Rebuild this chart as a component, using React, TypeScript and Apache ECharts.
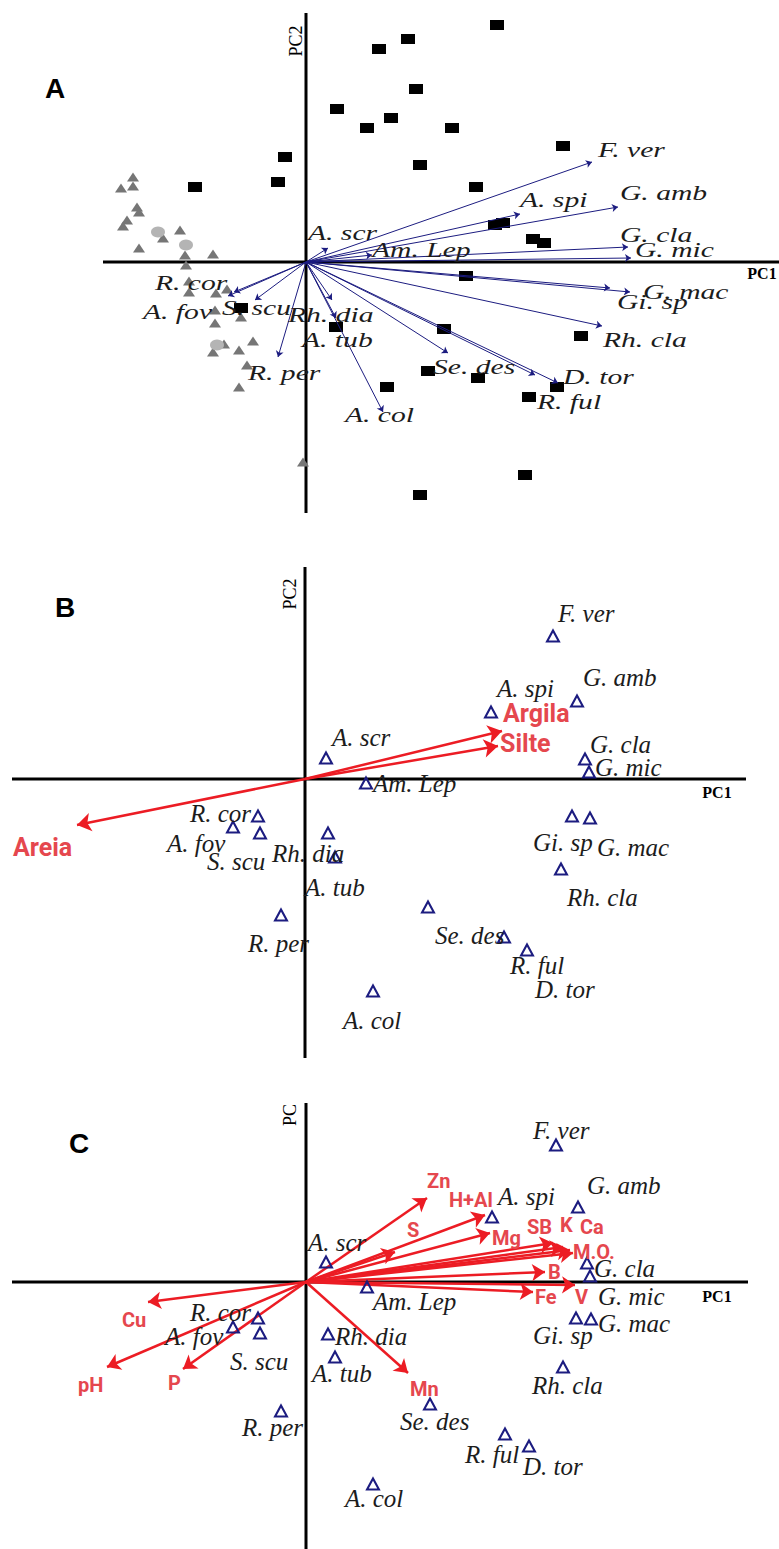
import React, { useEffect, useRef } from 'react';
import * as echarts from 'echarts';

// ---------- species (same order in all three panels) ----------
const SPECIES = ['F. ver', 'A. spi', 'G. amb', 'G. cla', 'G. mic', 'Am. Lep', 'A. scr', 'G. mac', 'Gi. sp', 'Rh. cla',
  'D. tor', 'R. ful', 'Se. des', 'A. col', 'A. tub', 'Rh. dia', 'R. per', 'S. scu', 'R. cor', 'A. fov'];

// Panel A: species loadings (arrow tips)
const A_LOAD_X = [2.86, 2.14, 3.12, 3.22, 3.25, 0.66, 0.22, 3.04, 3.24, 2.96, 2.52, 2.29, 1.42, 0.77, 0.30, 0.26, -0.28, -0.51, -0.78, -0.72];
const A_LOAD_Y = [1.00, 0.48, 0.55, 0.15, 0.04, 0.07, 0.14, -0.26, -0.30, -0.64, -1.21, -1.13, -0.91, -1.50, -0.56, -0.38, -0.95, -0.38, -0.34, -0.30];

// Panel A: site scores
const SITE_SQ_X = [1.91, 1.02, 0.73, 1.10, 0.31, 0.85, 0.61, 1.46, 2.57, -0.21, 1.14, -0.28, -1.11, 1.70, 1.89, 1.97, 2.27, 2.38, 1.60, -0.65, 0.30, 1.38, 2.75, 1.22, 0.81, 1.72, 2.51, 2.23, 2.19, 1.14];
const SITE_SQ_Y = [2.37, 2.23, 2.13, 1.73, 1.53, 1.44, 1.34, 1.34, 1.16, 1.05, 0.97, 0.80, 0.75, 0.75, 0.37, 0.39, 0.23, 0.19, -0.14, -0.46, -0.65, -0.67, -0.74, -1.09, -1.25, -1.16, -1.25, -1.35, -2.13, -2.33];
const SITE_TRI_X = [-1.73, -1.85, -1.73, -1.69, -1.67, -1.79, -1.83, -1.26, -1.43, -1.67, -1.21, -0.93, -1.20, -1.17, -0.79, -1.17, -0.90, -0.91, -0.65, -0.91, -0.53, -0.82, -0.93, -0.67, -0.59, -0.67, -0.03];
const SITE_TRI_Y = [0.85, 0.74, 0.76, 0.55, 0.50, 0.42, 0.36, 0.32, 0.24, 0.14, 0.07, 0.08, -0.03, -0.19, -0.27, -0.30, -0.31, -0.48, -0.55, -0.61, -0.79, -0.82, -0.90, -0.88, -1.03, -1.25, -2.00];
const SITE_CIR_X = [-1.48, -1.20, -0.89];
const SITE_CIR_Y = [0.30, 0.17, -0.83];

// Panel B: species scores + granulometry vectors
const B_SP_X = [2.48, 1.86, 2.72, 2.80, 2.84, 0.61, 0.21, 2.85, 2.67, 2.56, 2.22, 1.99, 1.23, 0.68, 0.30, 0.23, -0.24, -0.45, -0.47, -0.72];
const B_SP_Y = [1.43, 0.67, 0.78, 0.20, 0.07, -0.04, 0.21, -0.39, -0.37, -0.90, -1.71, -1.58, -1.28, -2.12, -0.78, -0.54, -1.36, -0.54, -0.37, -0.48];
const SOIL_NAMES = ['Argila', 'Silte', 'Areia'];
const SOIL_X = [1.97, 1.93, -2.28];
const SOIL_Y = [0.48, 0.33, -0.46];

// Panel C: species scores + chemical vectors
const C_SP_X = [2.50, 1.86, 2.72, 2.81, 2.84, 0.61, 0.20, 2.85, 2.70, 2.57, 2.23, 1.99, 1.24, 0.67, 0.29, 0.22, -0.25, -0.46, -0.48, -0.73];
const C_SP_Y = [1.37, 0.65, 0.75, 0.19, 0.06, -0.05, 0.20, -0.37, -0.36, -0.85, -1.64, -1.52, -1.22, -2.02, -0.75, -0.52, -1.29, -0.51, -0.36, -0.45];
const CHEM_NAMES = ['Cu', 'pH', 'P', 'Mn', 'Zn', 'H+Al', 'S', 'Mg', 'SB', 'K', 'Ca', 'M.O.', 'B', 'Fe', 'V'];
const CHEM_X = [-1.58, -1.99, -1.23, 1.02, 1.21, 1.79, 0.89, 1.84, 2.47, 2.57, 2.64, 2.67, 2.39, 2.27, 2.69];
const CHEM_Y = [-0.20, -0.85, -0.87, -0.91, 0.84, 0.67, 0.30, 0.49, 0.39, 0.35, 0.32, 0.29, 0.10, -0.10, -0.03];

// ---------- layout (pixels) ----------
const PANELS = [
  { top: 0, height: 530, xMin: -3.06, xMax: 4.73, yMin: -2.68, yMax: 2.62, h: [-2.03, 4.73], v: [-2.51, 2.49] },
  { top: 540, height: 530, xMin: -3.05, xMax: 4.74, yMin: -2.91, yMax: 2.39, h: [-2.93, 4.41], v: [-2.79, 2.12] },
  { top: 1090, height: 459, xMin: -3.06, xMax: 4.73, yMin: -2.67, yMax: 1.92, h: [-2.94, 4.42], v: [-2.67, 1.79] },
];
const A_LABEL_OFF = [[6, -12], [0, -14], [2, -14], [-8, -12], [4, -8], [0, -5], [-20, -15], [33, 4], [-13, 10], [1, 14],
  [5, -6], [2, 27], [-15, 14], [-38, 3], [-34, 22], [-44, 15], [-30, 16], [-33, 8], [-73, -13], [-91, 20]];
const B_LABEL_OFF = [[5, -23], [6, -24], [6, -24], [5, -15], [6, -5], [7, 0], [6, -21], [7, 29], [-39, 26], [6, 28],
  [8, 39], [6, 28], [7, 28], [-30, 29], [-30, 30], [-56, 20], [-33, 28], [-53, 28], [-68, -3], [-66, 16]];
const C_LABEL_OFF = [[-23, -15], [6, -21], [9, -22], [7, 5], [8, 20], [6, 14], [-18, -20], [7, 4], [-43, 17], [-31, 18],
  [-6, 20], [-40, 20], [-30, 17], [-28, 14], [-23, 16], [7, 2], [-39, 16], [-30, 28], [-68, -6], [-68, 9]];
const SOIL_LABEL_OFF = [[1, -18], [2, -3], [-64, 22]];
const CHEM_LABEL_OFF = [[-26, 18], [-29, 18], [-15, 14], [2, 16], [0, -17], [-36, -15], [12, -22], [2, 5], [-26, -16],
  [-3, -22], [10, -23], [0, -1], [3, 0], [2, 5], [0, 12]];

const NAVY = '#1c1c80';
const RED = '#ec1c24';
const RED_TXT = '#e5474e';
const SERIF = '"Liberation Serif", "Times New Roman", serif';
const SANS = 'Roboto, "Liberation Sans", Arial, sans-serif';

const zip = (xs: number[], ys: number[]) => xs.map((x, i) => [x, ys[i]]);

function buildOption(): any {
  const series: any[] = [];
  PANELS.forEach((p, g) => {
    series.push({
      type: 'line', xAxisIndex: g, yAxisIndex: g, silent: true, symbol: 'none', z: 1,
      data: [[p.h[0], 0], [p.h[1], 0]], lineStyle: { color: '#000', width: 3 },
    });
    series.push({
      type: 'line', xAxisIndex: g, yAxisIndex: g, silent: true, symbol: 'none', z: 1,
      data: [[0, p.v[0]], [0, p.v[1]]], lineStyle: { color: '#000', width: 3 },
    });
  });
  // Panel A
  series.push({
    type: 'lines', coordinateSystem: 'cartesian2d', xAxisIndex: 0, yAxisIndex: 0, z: 3, silent: true,
    symbol: ['none', 'arrow'], symbolSize: 6,
    lineStyle: { color: NAVY, width: 1, opacity: 1 },
    data: SPECIES.map((n, i) => ({ name: n, coords: [[0, 0], [A_LOAD_X[i], A_LOAD_Y[i]]] })),
  });
  series.push({
    type: 'scatter', xAxisIndex: 0, yAxisIndex: 0, z: 2, silent: true,
    symbol: 'rect', symbolSize: [14, 10], itemStyle: { color: '#000', opacity: 1 }, data: zip(SITE_SQ_X, SITE_SQ_Y),
  });
  series.push({
    type: 'scatter', xAxisIndex: 0, yAxisIndex: 0, z: 2, silent: true,
    symbol: 'triangle', symbolSize: [12, 9], itemStyle: { color: '#767676', opacity: 1 }, data: zip(SITE_TRI_X, SITE_TRI_Y),
  });
  series.push({
    type: 'scatter', xAxisIndex: 0, yAxisIndex: 0, z: 2, silent: true,
    symbol: 'circle', symbolSize: [14, 11], itemStyle: { color: '#b4b4b4', opacity: 1 }, data: zip(SITE_CIR_X, SITE_CIR_Y),
  });
  // Panel B
  series.push({
    type: 'lines', coordinateSystem: 'cartesian2d', xAxisIndex: 1, yAxisIndex: 1, z: 3, silent: true,
    symbol: ['none', 'arrow'], symbolSize: 14,
    lineStyle: { color: RED, width: 2.5, opacity: 1 },
    data: SOIL_NAMES.map((n, i) => ({ name: n, coords: [[0, 0], [SOIL_X[i], SOIL_Y[i]]] })),
  });
  series.push({
    type: 'scatter', xAxisIndex: 1, yAxisIndex: 1, z: 4, silent: true,
    symbol: 'triangle', symbolSize: [12, 11],
    itemStyle: { color: 'rgba(255,255,255,0)', borderColor: NAVY, borderWidth: 2, opacity: 1 }, data: zip(B_SP_X, B_SP_Y),
  });
  // Panel C
  series.push({
    type: 'lines', coordinateSystem: 'cartesian2d', xAxisIndex: 2, yAxisIndex: 2, z: 3, silent: true,
    symbol: ['none', 'arrow'], symbolSize: 13,
    lineStyle: { color: RED, width: 2.5, opacity: 1 },
    data: CHEM_NAMES.map((n, i) => ({ name: n, coords: [[0, 0], [CHEM_X[i], CHEM_Y[i]]] })),
  });
  series.push({
    type: 'scatter', xAxisIndex: 2, yAxisIndex: 2, z: 4, silent: true,
    symbol: 'triangle', symbolSize: [12, 11],
    itemStyle: { color: 'rgba(255,255,255,0)', borderColor: NAVY, borderWidth: 2, opacity: 1 }, data: zip(C_SP_X, C_SP_Y),
  });

  return {
    animation: false,
    backgroundColor: '#fff',
    grid: PANELS.map((p) => ({ left: 0, top: p.top, width: 779, height: p.height })),
    xAxis: PANELS.map((p, g) => ({ type: 'value', gridIndex: g, min: p.xMin, max: p.xMax, show: false })),
    yAxis: PANELS.map((p, g) => ({ type: 'value', gridIndex: g, min: p.yMin, max: p.yMax, show: false })),
    series,
  };
}

function textEl(text: string, x: number, y: number, opts: any): any {
  return {
    type: 'text', x, y, silent: true, z: 10,
    scaleX: opts.scaleX || 1, rotation: opts.rotation || 0,
    style: {
      text, fill: opts.fill || '#1a1a1a',
      fontFamily: opts.fontFamily || SERIF, fontSize: opts.fontSize || 18,
      fontStyle: opts.fontStyle || 'normal', fontWeight: opts.fontWeight || 'normal',
      align: opts.align || 'left', verticalAlign: 'middle',
      textAlign: opts.align || 'left', textVerticalAlign: 'middle',
    },
  };
}

function buildGraphics(chart: any): any[] {
  const out: any[] = [];
  const place = (g: number, names: string[], xs: number[], ys: number[], offs: number[][], opts: any) => {
    names.forEach((n, i) => {
      const p = chart.convertToPixel({ gridIndex: g }, [xs[i], ys[i]]);
      out.push(textEl(n, p[0] + offs[i][0], p[1] + offs[i][1], opts));
    });
  };
  const spItal = { fontStyle: 'italic', fill: '#1c1c1c' };
  place(0, SPECIES, A_LOAD_X, A_LOAD_Y, A_LABEL_OFF, { ...spItal, fontSize: 20, scaleX: 1.48 });
  place(1, SPECIES, B_SP_X, B_SP_Y, B_LABEL_OFF, { ...spItal, fontSize: 25 });
  place(2, SPECIES, C_SP_X, C_SP_Y, C_LABEL_OFF, { ...spItal, fontSize: 25 });
  place(1, SOIL_NAMES, SOIL_X, SOIL_Y, SOIL_LABEL_OFF, { fontFamily: SANS, fontWeight: 'bold', fontSize: 25, fill: RED_TXT });
  place(2, CHEM_NAMES, CHEM_X, CHEM_Y, CHEM_LABEL_OFF, { fontFamily: SANS, fontWeight: 'bold', fontSize: 20, fill: RED_TXT });

  // panel letters
  const letter = { fontFamily: '"Liberation Sans", Arial, sans-serif', fontWeight: 'bold', fontSize: 28, fill: '#000', align: 'center' };
  out.push(textEl('A', 55, 88, letter));
  out.push(textEl('B', 65, 607, letter));
  out.push(textEl('C', 79, 1143, letter));
  // axis titles
  const pc2 = { fontSize: 18, fill: '#000', align: 'center', rotation: Math.PI / 2 };
  const pc1 = { fontSize: 16, fontWeight: 'bold', fill: '#000', align: 'center' };
  out.push(textEl('PC2', 296, 41, pc2));
  out.push(textEl('PC1', 762, 273, pc1));
  out.push(textEl('PC2', 290, 594, pc2));
  out.push(textEl('PC1', 717, 792, pc1));
  out.push(textEl('PC', 290, 1115, pc2));
  out.push(textEl('PC1', 717, 1296, pc1));
  return out;
}

export default function App() {
  const ref = useRef<HTMLDivElement>(null);
  useEffect(() => {
    document.body.style.margin = '0';
    const chart = echarts.init(ref.current!, null, { renderer: 'svg' });
    chart.setOption(buildOption());
    chart.setOption({ graphic: buildGraphics(chart) });
    return () => chart.dispose();
  }, []);
  return <div ref={ref} style={{ width: 779, height: 1549 }} />;
}
